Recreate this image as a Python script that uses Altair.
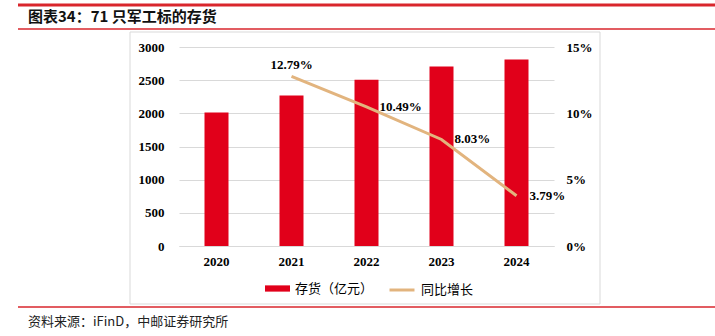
import altair as alt
import pandas as pd

years = ["2020", "2021", "2022", "2023", "2024"]
inventory = [2012, 2268, 2506, 2707, 2810]
growth_years = ["2021", "2022", "2023", "2024"]
growth = [12.79, 10.49, 8.03, 3.79]

title_text = "图表34：71 只军工标的存货"
source_text = "资料来源：iFinD，中邮证券研究所"
bar_name = "存货（亿元）"
line_name = "同比增长"

RED = "#E1001A"
TAN = "#E2B47E"
LINE_RED = "#D9262C"
GRID = "#D9D9D9"
SERIF = "Liberation Serif"
CJK = "Noto Sans CJK SC"

bars_df = pd.DataFrame({"year": years, "inv": inventory, "s": bar_name})
line_df = pd.DataFrame({"year": growth_years, "g": growth, "s2": line_name})
one = pd.DataFrame({"k": [0]})

x_enc = alt.X("year:N", sort=years, title=None,
              scale=alt.Scale(paddingInner=0.68, paddingOuter=0.34),
              axis=alt.Axis(labelAngle=0, labelFont=SERIF, labelFontWeight="bold",
                            labelFontSize=13, labelColor="#000", labelPadding=9,
                            ticks=False, domainColor=GRID, domainWidth=1))

bars = alt.Chart(bars_df).mark_bar(color=RED).encode(
    x=x_enc,
    y=alt.Y("inv:Q", title=None, scale=alt.Scale(domain=[0, 3000], nice=False),
            axis=alt.Axis(values=[0, 500, 1000, 1500, 2000, 2500, 3000], orient="left",
                          format="d",
                          labelFont=SERIF, labelFontWeight="bold", labelFontSize=13,
                          labelColor="#000", labelPadding=15, ticks=False, domain=False,
                          grid=True, gridColor=GRID, gridWidth=1)),
    color=alt.Color("s:N", scale=alt.Scale(domain=[bar_name], range=[RED]),
                    legend=alt.Legend(title=None, orient="none", legendX=86, legendY=229,
                                      symbolType="M-1,-0.25H1V0.25H-1Z", symbolSize=625,
                                      symbolStrokeWidth=0, labelFont=CJK, labelFontSize=13,
                                      labelColor="#000", labelOffset=5, padding=0)),
)

pct_axis = alt.Axis(values=[0, 5, 10, 15], orient="right", labelExpr="datum.value + '%'",
                    labelFont=SERIF, labelFontWeight="bold", labelFontSize=13,
                    labelColor="#000", labelPadding=12, ticks=False, domain=False,
                    grid=False)
pct_scale = alt.Scale(domain=[0, 15], nice=False)

line = alt.Chart(line_df).mark_line(strokeWidth=3).encode(
    x=alt.X("year:N", sort=years),
    y=alt.Y("g:Q", title=None, scale=pct_scale, axis=pct_axis),
    stroke=alt.Stroke("s2:N", scale=alt.Scale(domain=[line_name], range=[TAN]),
                      legend=alt.Legend(title=None, orient="none", legendX=209, legendY=229,
                                        symbolType="stroke", symbolSize=625,
                                        symbolStrokeWidth=3, labelFont=CJK, labelFontSize=13,
                                        labelColor="#000", labelOffset=5, padding=0)),
)

lbl_base = alt.Chart(line_df).transform_calculate(
    lbl="format(datum.g, '.2f') + '%'"
)
lbl_top = lbl_base.transform_filter("datum.year == '2021'").mark_text(
    font=SERIF, fontWeight="bold", fontSize=13, color="#000", dy=-11, align="center"
).encode(x=alt.X("year:N", sort=years),
         y=alt.Y("g:Q", title=None, scale=pct_scale, axis=pct_axis), text="lbl:N")
lbl_right = lbl_base.transform_filter("datum.year != '2021'").mark_text(
    font=SERIF, fontWeight="bold", fontSize=13, color="#000", dx=13, dy=0, align="left"
).encode(x=alt.X("year:N", sort=years),
         y=alt.Y("g:Q", title=None, scale=pct_scale, axis=pct_axis), text="lbl:N")

line_layer = alt.layer(line, lbl_top, lbl_right)

# decoration
box = alt.Chart(one).mark_rect(fill=None, stroke=GRID, strokeWidth=1).encode(
    x=alt.value(-49), x2=alt.value(421), y=alt.value(-15), y2=alt.value(257))
top_rule = alt.Chart(one).mark_rule(color=LINE_RED, strokeWidth=3).encode(
    x=alt.value(-161), x2=alt.value(536), y=alt.value(-42))
title_rule = alt.Chart(one).mark_rule(color=LINE_RED, strokeWidth=1.5).encode(
    x=alt.value(-161), x2=alt.value(536), y=alt.value(-18))
bottom_rule = alt.Chart(one).mark_rule(color=LINE_RED, strokeWidth=1.5).encode(
    x=alt.value(-161), x2=alt.value(536), y=alt.value(260))
title = alt.Chart(one).mark_text(font=CJK, fontSize=15, fontWeight="bold", color="#111",
                                  align="left", baseline="middle").encode(
    x=alt.value(-151), y=alt.value(-30), text=alt.value(title_text))
source = alt.Chart(one).mark_text(font=CJK, fontSize=13, color="#222",
                                   align="left", baseline="middle").encode(
    x=alt.value(-151), y=alt.value(275), text=alt.value(source_text))

deco = alt.layer(box, top_rule, title_rule, bottom_rule, title, source)

chart = alt.layer(deco, bars, line_layer).resolve_scale(y="independent").properties(
    width=375, height=199,
    autosize=alt.AutoSizeParams(type="none"),
    padding={"left": 179, "top": 47, "right": 161, "bottom": 90},
    background="white",
).configure_view(stroke=None)

chart.save("out.html", embed_options={"renderer": "svg", "actions": False})
